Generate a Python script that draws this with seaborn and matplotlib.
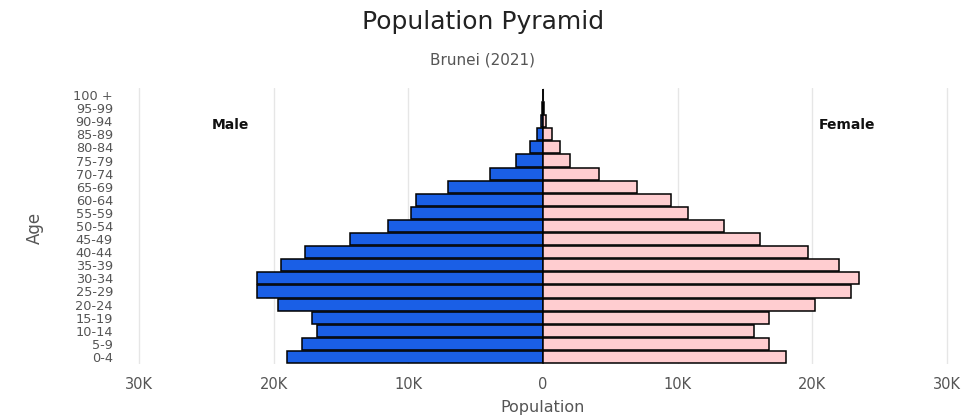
import matplotlib
matplotlib.use("Agg")
import matplotlib.pyplot as plt
import seaborn as sns
import pandas as pd

# ---- data (thousands of people) ----
age_groups = ["100 +", "95-99", "90-94", "85-89", "80-84", "75-79", "70-74",
              "65-69", "60-64", "55-59", "50-54", "45-49", "40-44", "35-39",
              "30-34", "25-29", "20-24", "15-19", "10-14", "5-9", "0-4"]
male_k = [0.02, 0.05, 0.12, 0.44, 1.0, 1.97, 3.9, 7.08, 9.45, 9.8, 11.48,
          14.3, 17.65, 19.45, 21.2, 21.2, 19.7, 17.15, 16.8, 17.9, 19.0]
female_k = [0.02, 0.06, 0.2, 0.67, 1.24, 1.98, 4.13, 6.99, 9.48, 10.8, 13.4,
            16.1, 19.7, 22.0, 23.46, 22.84, 20.2, 16.8, 15.7, 16.8, 18.07]
x_ticks = [-30000, -20000, -10000, 0, 10000, 20000, 30000]
x_tick_labels = ["30K", "20K", "10K", "0", "10K", "20K", "30K"]

male_color = "#1a5fe6"
female_color = "#ffcdd0"

df = pd.DataFrame({
    "Age": age_groups * 2,
    "Population": [-v * 1000 for v in male_k] + [v * 1000 for v in female_k],
    "Sex": ["Male"] * len(age_groups) + ["Female"] * len(age_groups),
})

sns.set_theme(style="white")
plt.rcParams["font.family"] = ["DejaVu Sans"]

fig = plt.figure(figsize=(9.66, 4.19), dpi=100)
ax = fig.add_axes([125.4 / 966, 54.8 / 419, 835.2 / 966, 276.4 / 419])

sns.barplot(data=df, x="Population", y="Age", hue="Sex", order=age_groups,
            hue_order=["Male", "Female"], palette=[male_color, female_color],
            dodge=False, orient="h", width=0.92, edgecolor="black",
            linewidth=1.1, saturation=1, legend=False, ax=ax, zorder=3)

ax.set_xlim(-31000, 31000)
ax.set_ylim(20.55, -0.55)
ax.set_xticks(x_ticks)
ax.set_xticklabels(x_tick_labels)
for xv in x_ticks:
    ax.axvline(xv, color="#e6e6e6", linewidth=1.0, zorder=0)
for s in ax.spines.values():
    s.set_visible(False)
ax.tick_params(axis="x", length=0, pad=9, labelsize=10.5, labelcolor="#555555")
ax.tick_params(axis="y", length=0, pad=9, labelsize=9.3, labelcolor="#555555")
ax.set_xlabel("")
ax.set_ylabel("")

ax.text(-23200, 2.3, "Male", ha="center", va="center", fontsize=10,
        fontweight="bold", color="#111111")
ax.text(22600, 2.3, "Female", ha="center", va="center", fontsize=10,
        fontweight="bold", color="#111111")

fig.text(0.5, 1 - 22 / 419, "Population Pyramid", ha="center", va="center",
         fontsize=18, color="#222222")
fig.text(0.5, 1 - 60 / 419, "Brunei (2021)", ha="center", va="center",
         fontsize=11, color="#555555")
fig.text(543 / 966, 1 - 407 / 419, "Population", ha="center", va="center",
         fontsize=11.5, color="#555555")
fig.text(35 / 966, 1 - 228 / 419, "Age", ha="center", va="center",
         rotation=90, fontsize=12, color="#555555")

fig.savefig("out.png", dpi=100)
